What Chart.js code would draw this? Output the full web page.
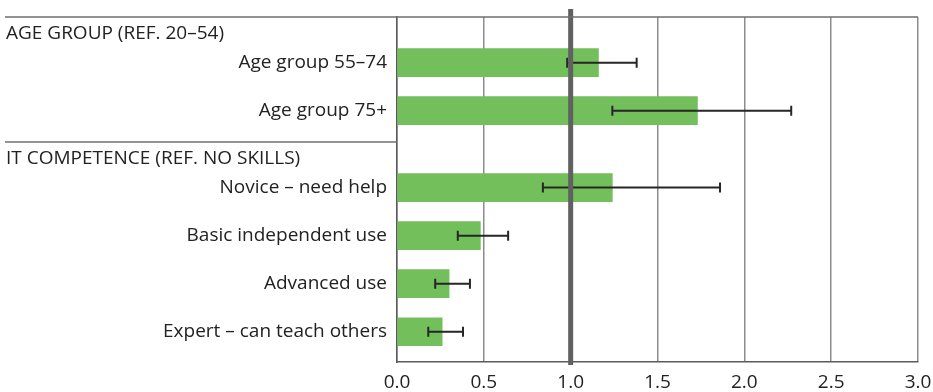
<!DOCTYPE html>
<html>
<head>
<meta charset="utf-8">
<script src="https://cdn.jsdelivr.net/npm/chart.js@4/dist/chart.umd.min.js"></script>
<style>
  html, body { margin: 0; padding: 0; background: #fff; }
  #wrap { width: 933px; height: 392px; }
</style>
</head>
<body>
<div id="wrap"><canvas id="chart"></canvas></div>
<script>
// data
const groupTitles = ['AGE GROUP (REF. 20\u201354)', 'IT COMPETENCE (REF. NO SKILLS)'];
const groupSizes = [2, 4];
const categories = ['Age group 55\u201374', 'Age group 75+', 'Novice \u2013 need help', 'Basic independent use', 'Advanced use', 'Expert \u2013 can teach others'];
const oddsRatio = [1.16, 1.73, 1.24, 0.48, 0.30, 0.26];
const ciLow = [0.98, 1.24, 0.84, 0.35, 0.22, 0.18];
const ciHigh = [1.38, 2.27, 1.86, 0.64, 0.42, 0.38];
const xTicks = [0, 0.5, 1.0, 1.5, 2.0, 2.5, 3.0];
const refValue = 1.0;

const FONT = '"Open Sans", "DejaVu Sans", sans-serif';
const FONT_SIZE = 19;
const GROUP_GAP = 0.6;   // extra space between groups, in rows
const HEAD_ROOM = 0.95;  // space above first row of a group

// row position of every bar, with a gap before each new group
const rowPos = [];
const groupStart = [];
let k = 0;
groupSizes.forEach((n, g) => {
  groupStart.push(k + g * GROUP_GAP);
  for (let i = 0; i < n; i++) { rowPos.push(k + g * GROUP_GAP); k++; }
});

const extras = {
  id: 'extras',
  afterDatasetsDraw(chart) {
    const { ctx, chartArea, scales: { x, y } } = chart;
    ctx.save();
    // error bars
    ctx.strokeStyle = '#262626';
    ctx.lineWidth = 2;
    rowPos.forEach((p, i) => {
      const py = y.getPixelForValue(p);
      const x1 = x.getPixelForValue(ciLow[i]);
      const x2 = x.getPixelForValue(ciHigh[i]);
      ctx.beginPath();
      ctx.moveTo(x1, py); ctx.lineTo(x2, py);
      ctx.moveTo(x1, py - 5); ctx.lineTo(x1, py + 5);
      ctx.moveTo(x2, py - 5); ctx.lineTo(x2, py + 5);
      ctx.stroke();
    });
    // reference line at 1.0
    const rx = x.getPixelForValue(refValue);
    ctx.strokeStyle = '#616161';
    ctx.lineWidth = 5;
    ctx.beginPath();
    ctx.moveTo(rx, chartArea.top - 8);
    ctx.lineTo(rx, chartArea.bottom + 3);
    ctx.stroke();
    // group separators and titles
    ctx.strokeStyle = '#6e6e6e';
    ctx.lineWidth = 1.5;
    ctx.fillStyle = '#222';
    ctx.font = FONT_SIZE + 'px ' + FONT;
    ctx.textAlign = 'left';
    ctx.textBaseline = 'middle';
    groupTitles.forEach((t, g) => {
      const sy = Math.max(chartArea.top, y.getPixelForValue(groupStart[g] - HEAD_ROOM));
      ctx.beginPath();
      ctx.moveTo(5, sy);
      ctx.lineTo(g === 0 ? chartArea.right : chartArea.left, sy);
      ctx.stroke();
      ctx.fillText(t, 6, sy + 17);
    });
    ctx.restore();
  }
};

new Chart(document.getElementById('chart'), {
  type: 'bar',
  data: {
    datasets: [{
      data: oddsRatio.map((v, i) => ({ x: v, y: rowPos[i] })),
      backgroundColor: '#72bf5b',
      barThickness: 28
    }]
  },
  options: {
    indexAxis: 'y',
    responsive: true,
    maintainAspectRatio: false,
    animation: false,
    layout: { padding: { top: 17, right: 15, left: 0, bottom: 0 } },
    plugins: { legend: { display: false }, tooltip: { enabled: false } },
    scales: {
      x: {
        type: 'linear',
        min: 0, max: 3,
        afterBuildTicks: axis => { axis.ticks = xTicks.map(v => ({ value: v })); },
        afterFit: axis => {
          axis.height = 30;
          axis.paddingLeft = 0; axis.paddingRight = 0;
        },
        ticks: {
          callback: v => Number(v).toFixed(1),
          color: '#222',
          font: { family: FONT, size: FONT_SIZE },
          padding: 9
        },
        grid: { color: '#8c8c8c', lineWidth: 1.5, drawTicks: false },
        border: { color: '#5a5a5a', width: 1.5 }
      },
      y: {
        type: 'linear',
        reverse: true,
        offset: false,
        min: -HEAD_ROOM,
        max: rowPos[rowPos.length - 1] + 0.63,
        afterBuildTicks: axis => { axis.ticks = rowPos.map(v => ({ value: v })); },
        afterFit: axis => {
          axis.width = 397;
          axis.paddingTop = 0; axis.paddingBottom = 0;
        },
        ticks: {
          autoSkip: false,
          callback: v => categories[rowPos.indexOf(v)],
          color: '#222',
          font: { family: FONT, size: FONT_SIZE },
          padding: 10
        },
        grid: { display: false, drawTicks: false },
        border: { color: '#5a5a5a', width: 1.5 }
      }
    }
  },
  plugins: [extras]
});
</script>
</body>
</html>
